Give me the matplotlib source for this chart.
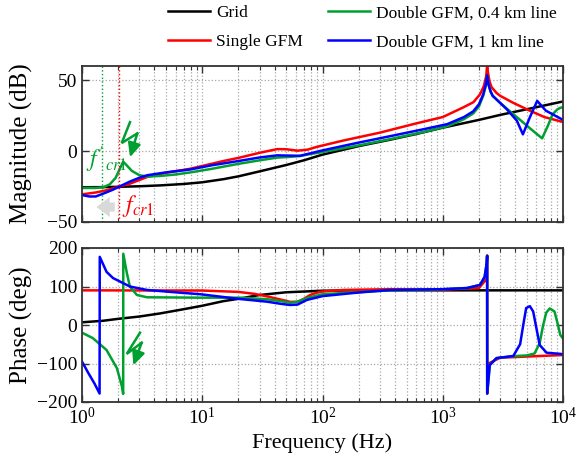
import matplotlib
matplotlib.use("Agg")
import matplotlib.pyplot as plt
from matplotlib.ticker import LogLocator, FixedLocator, NullFormatter

plt.rcParams['font.family'] = ['Liberation Serif', 'DejaVu Serif']
plt.rcParams['mathtext.fontset'] = 'stix'

# ---------------- data ----------------
labels = ["Grid", "Single GFM", "Double GFM, 0.4 km line", "Double GFM, 1 km line"]
colors = ["black", "#ff0000", "#00a030", "#0000ff"]

# Magnitude (dB)
grid_mag_f = [1, 1.5, 2, 3, 4.45, 7, 10, 15, 20, 30, 50, 70, 100, 200, 364, 600, 1000, 2000, 3000, 5000, 10000]
grid_mag = [-25.5, -25.4, -25.2, -24.8, -24.2, -23.2, -22.0, -19.8, -17.8, -14.3, -9.8, -6.5, -2.5, 3.5, 8.0, 12.0, 16.5, 22.0, 25.5, 29.5, 35.0]

single_mag_f = [1, 1.3, 1.6, 2.05, 2.5, 3.5, 5, 7.9, 10, 15, 20, 30, 42, 50, 62, 75, 90, 150, 300, 600, 1000,
                1480, 1800, 2040, 2200, 2300, 2340, 2380, 2450, 2550, 2800, 3000, 3860, 5300, 7000, 10000]
single_mag = [-30.5, -29.2, -27.6, -25.0, -23.0, -18.2, -15.3, -12.5, -10.5, -7.0, -4.8, -1.2, 1.4, 1.3, 0.3, 1.0, 3.0,
              7.5, 13.0, 19.5, 24.0, 30.8, 34.5, 40.0, 46.0, 53.0, 61.0, 55.0, 49.0, 45.0, 41.0, 39.0, 34.0, 28.5, 24.0, 20.5]

dgfm04_mag_f = [1, 1.3, 1.5, 1.7, 1.9, 2.05, 2.2, 2.35, 2.6, 3, 3.5, 4.5, 6, 8, 12, 20, 30, 42, 55, 65, 80, 100,
                200, 364, 700, 1090, 1500, 1790, 2000, 2170, 2280, 2340, 2400, 2500, 2600, 3000, 3400, 4400, 5500,
                6700, 7500, 8200, 9000, 9500, 10000]
dgfm04_mag = [-26.0, -26.0, -25.5, -23.5, -19.0, -13.0, -7.5, -10.0, -14.0, -17.0, -18.0, -17.5, -16.5, -15.0, -12.5,
              -9.0, -6.5, -4.6, -4.0, -3.5, -2.0, -0.7, 4.0, 8.4, 13.5, 17.5, 22.5, 26.5, 31.5, 39.0, 46.0, 53.0, 47.0,
              42.0, 39.0, 34.0, 30.0, 22.0, 15.0, 9.0, 18.0, 26.0, 29.5, 30.5, 31.0]

dgfm1_mag_f = [1, 1.15, 1.3, 1.5, 1.8, 2.05, 2.5, 3, 3.5, 5, 7.9, 12, 20, 30, 42, 55, 65, 80, 100, 200, 364, 700,
               1090, 1500, 1790, 2000, 2170, 2280, 2340, 2400, 2500, 2600, 3000, 3400, 4130, 4640, 5300, 6100,
               7200, 10000]
dgfm1_mag = [-31.0, -32.0, -32.0, -30.0, -27.3, -25.0, -21.5, -18.8, -17.0, -15.0, -13.0, -10.0, -7.0, -4.5, -3.0,
             -3.2, -3.3, -1.5, 0.5, 6.0, 10.5, 15.5, 19.0, 24.0, 28.0, 33.0, 40.0, 47.0, 53.5, 47.0, 42.0, 39.0, 34.0,
             29.6, 21.5, 11.8, 23.8, 35.4, 28.5, 22.0]

# Phase (deg)
grid_ph_f = [1, 1.5, 2, 3, 4.45, 7, 10, 15, 20, 30, 50, 100, 200, 500, 10000]
grid_ph = [7, 11, 16, 22, 30, 41, 50, 62, 68, 78, 85, 89, 90, 90, 90]

single_ph_f = [1, 10, 20, 27, 35, 45, 54, 62, 70, 79, 90, 100, 150, 364, 1000, 2000, 2250, 2330, 2340, 2345, 2400,
               3000, 5000, 10000]
single_ph = [90, 89.5, 86, 81, 74, 66, 60, 60.5, 68, 78, 84, 87, 91, 93, 92, 96, 115, 160, 180, -178, -100, -85, -82, -78]

dgfm04_ph_f = [1, 1.23, 1.6, 1.95, 2.15, 2.2, 2.205, 2.36, 2.5, 2.86, 3.47, 9.6, 20.6, 34.5, 45, 53.6, 62, 74, 100,
               364, 1000, 1590, 2040, 2230, 2320, 2340, 2342, 2460, 2800, 3860, 5000, 5800, 6400, 6800, 7250, 7760,
               8500, 9000, 9500, 10000]
dgfm04_ph = [-20, -34, -65, -112, -160, -179, 185, 135, 100, 78, 72, 71, 71, 67, 62, 58, 60, 70, 80, 90, 93, 96,
             104, 125, 160, 180, -178, -104, -86, -81, -79, -74, -47, -4, 32, 43, 35, 5, -26, -35]

dgfm1_ph_f = [1, 1.13, 1.27, 1.4, 1.405, 1.6, 1.81, 2.5, 3.47, 6.5, 9.6, 20.6, 34.5, 45, 53.6, 62, 74, 100, 193,
              364, 1000, 1590, 2040, 2230, 2320, 2340, 2342, 2460, 2800, 3860, 4400, 4700, 4940, 5300, 5650, 6050,
              6400, 7300, 9500, 10000]
dgfm1_ph = [-95, -125, -152, -178, 177, 138, 122, 100, 91, 84, 80, 67.5, 60.6, 55, 52, 53, 65, 75, 84, 91, 93, 96,
            104, 125, 160, 180, -178, -104, -86, -80.5, -50, 5, 44, 49, 35, -13, -52, -72, -75, -76]

f_cr1_prime = 1.46
f_cr1 = 2.04

# ---------------- figure ----------------
fig = plt.figure(figsize=(5.87, 4.70), dpi=100)
L, W = 82 / 587, (563 - 82) / 587
ax1 = fig.add_axes([L, 1 - 222 / 470, W, 156 / 470])
ax2 = fig.add_axes([L, 1 - 402 / 470, W, 154 / 470])

lw = 1.8
mag_series = [(grid_mag_f, grid_mag), (single_mag_f, single_mag), (dgfm04_mag_f, dgfm04_mag), (dgfm1_mag_f, dgfm1_mag)]
ph_series = [(grid_ph_f, grid_ph), (single_ph_f, single_ph), (dgfm04_ph_f, dgfm04_ph), (dgfm1_ph_f, dgfm1_ph)]

handles = []
for (f, m), c, lab in zip(mag_series, colors, labels):
    h, = ax1.semilogx(f, m, color=c, lw=lw, label=lab)
    handles.append(h)
for (f, p), c in zip(ph_series, colors):
    ax2.semilogx(f, p, color=c, lw=lw)

for ax in (ax1, ax2):
    ax.set_xlim(1, 1e4)
    ax.xaxis.set_major_locator(LogLocator(base=10, numticks=10))
    ax.xaxis.set_minor_locator(LogLocator(base=10, subs=range(2, 10), numticks=50))
    ax.xaxis.set_minor_formatter(NullFormatter())
    ax.grid(True, which='major', axis='both', linestyle=':', color='#a8a8a8', lw=0.9)
    ax.grid(True, which='minor', axis='x', linestyle=':', color='#a8a8a8', lw=0.9)
    ax.tick_params(which='both', direction='in', top=True, right=True, labelsize=14, color='#333333')
    ax.tick_params(which='major', length=5, width=1.0)
    ax.tick_params(which='minor', length=3, width=0.8)
    for s in ax.spines.values():
        s.set_color('#333333')
        s.set_linewidth(1.3)

ax1.set_ylim(-50, 60)
ax1.yaxis.set_major_locator(FixedLocator([-50, 0, 50]))
ax1.tick_params(labelbottom=False)
ax2.set_ylim(-200, 200)
ax2.yaxis.set_major_locator(FixedLocator([-200, -100, 0, 100, 200]))

ax1.set_ylabel("Magnitude (dB)", fontsize=18)
ax2.set_ylabel("Phase (deg)", fontsize=18)
ax2.set_xlabel("Frequency (Hz)", fontsize=16)
ax1.yaxis.set_label_coords(-0.102, 0.5)
ax2.yaxis.set_label_coords(-0.102, 0.5)

# vertical dotted markers
ax1.axvline(f_cr1_prime, color='#00a030', ls=':', lw=1.0)
ax1.axvline(f_cr1, color='#ff0000', ls=':', lw=1.0)

# annotations
ax1.text(0.008, 0.40, r"$f'_{cr1}$", color='#00a030', fontsize=17, transform=ax1.transAxes, ha='left', va='center')
ax1.text(0.083, 0.10, r"$f_{cr1}$", color='#ff0000', fontsize=17, transform=ax1.transAxes, ha='left', va='center')
ax1.annotate("", xy=(0.030, 0.096), xytext=(0.068, 0.096), xycoords='axes fraction',
             arrowprops=dict(arrowstyle='simple,head_width=1.2,head_length=0.8,tail_width=0.55',
                             mutation_scale=12, color='#d9d9d9', lw=0, shrinkA=0, shrinkB=0))

def lightning(ax, pts, color):
    xs = [p[0] for p in pts[:3]]
    ys = [p[1] for p in pts[:3]]
    ax.plot(xs, ys, color=color, lw=1.8, transform=ax.transAxes, clip_on=False, solid_joinstyle='miter')
    ax.annotate("", xy=pts[3], xytext=pts[2], xycoords='axes fraction',
                arrowprops=dict(arrowstyle='-|>,head_width=0.32,head_length=0.7', color=color, lw=1.8,
                                mutation_scale=12, shrinkA=0, shrinkB=0))

lightning(ax1, [(0.0998, 0.640), (0.0825, 0.506), (0.1150, 0.568), (0.0998, 0.415)], '#00a030')
lightning(ax2, [(0.1206, 0.450), (0.0929, 0.312), (0.1241, 0.385), (0.1067, 0.238)], '#00a030')

fig.legend(handles=handles, labels=labels, ncol=2, loc='upper left', bbox_to_anchor=(161 / 587, 1.004),
           frameon=False, fontsize=12.5, handlelength=2.41, handletextpad=0.35, columnspacing=1.44,
           labelspacing=0.75, borderaxespad=0.0)

fig.savefig("out.png", dpi=100)
